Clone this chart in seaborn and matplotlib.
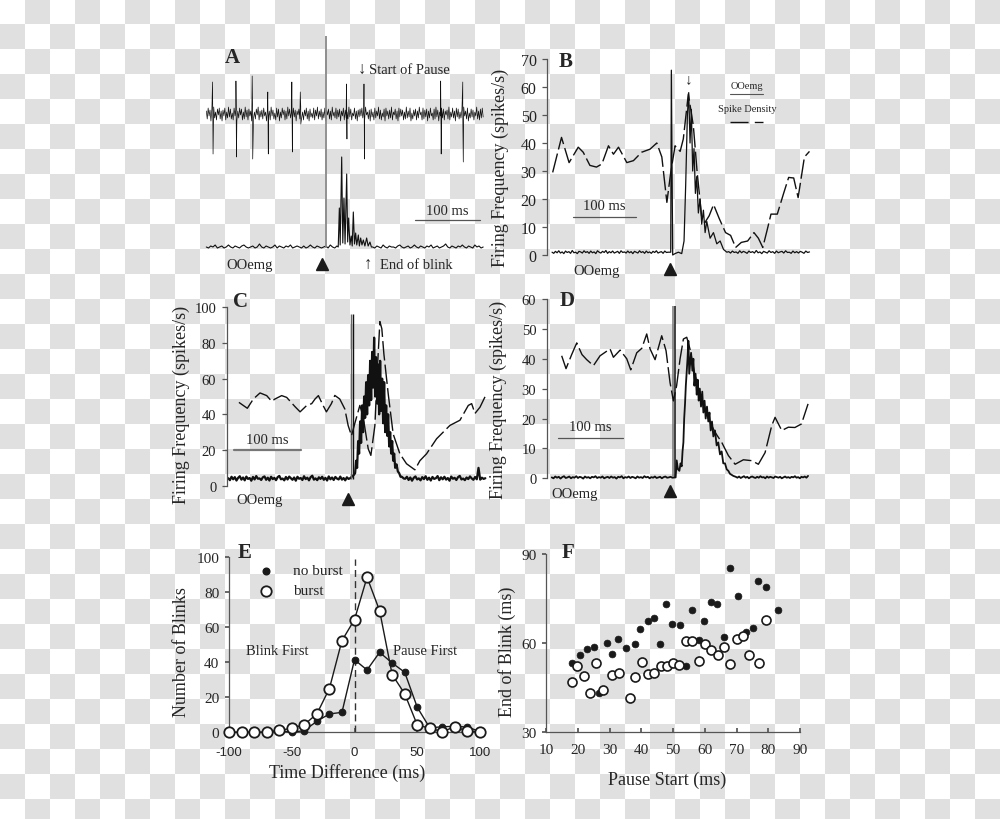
import numpy as np
import matplotlib
matplotlib.use("Agg")
import matplotlib.pyplot as plt
from matplotlib.colors import ListedColormap
import seaborn as sns

sns.set_theme(style="white")
plt.rcParams['font.family'] = ['Liberation Serif', 'DejaVu Sans']
plt.rcParams['axes.unicode_minus'] = False
plt.rcParams['axes.facecolor'] = 'none'

SPINE = '#555555'
DASH = (0, (14, 3))
LABEL_FS = 13
NOTE_FS = 10.5

# ---------------- data ----------------
# Panel A : unit spike train (arbitrary units) and OOemg
a_spike_noise = [3,-5,6,-2,4,-7,5,-3,7,-4,2,-6,5,-1,6,-5,3,-7,4,-2,6,-6,2,-4,7,-3,5,-5,1,-6,
                 6,-2,4,-7,3,-4,6,-1,5,-6,2,-5,7,-3,4,-6,5,-2,3,-7,6,-4,2,-5,5,-1,7,-6,3,-3,
                 4,-5,6,-2,2,-7,5,-4,3,-6,7,-2,4,-5,1,-6,6,-3,5,-7,2,-4,6,-1,4,-6,3,-5,7,-2,
                 5,-4,2,-6,6,-3,4,-7,3,-1,5,-5,7,-4,2,-6,4,-2,6,-5,3,-7,5,-3,1,-4,6,-6,4,-2,
                 7,-5,3,-3,5,-6,2,-4,6,-7,4,-1,5,-5,3,-6,7,-2,2,-4,6,-5,4,-3,5,-7,3,-2,6,-6,
                 4,-4,2,-5,7,-3,5,-6,1,-2,6,-5,3,-7,4,-3,5,-2,6,-4,3,-6,7,-1,2,-5,4,-7,5,-3,
                 2,-6,6,-4,3,-2,7,-5,4,-6,1,-3,5,-7,6,-2,3,-5,4,-4,7,-6,2,-1,5,-5,3,-7,6,-3,
                 5,-2,4,-6,2,-5,7,-4,3,-3,6,-7,1,-5,4,-2,5,-6,3,-4,7,-1,2,-6,6,-5,4,-3,5,-7,
                 3,-4,6,-2,1,-6,5,-5,7,-3,4,-7,2,-2,6,-4,5,-6,3,-1,4,-5,7,-6,2,-3,6,-4,3,-7,
                 6,-3,5,-5,2,-4,4,-6,7,-2,3,-5,6,-7,1,-4,5,-3,4,-6,2,-2,7,-5,3,-6,5,-4,6,-3]
a_spike_times = [-168, -132, -107, -83, -46, -33, 38, 65, 183, 217]
a_spike_up = [32, 33, 38, 22, 32, 22, 30, 30, 33, 32]
a_spike_down = [-40, -43, -45, -40, -38, -10, -25, -45, -40, -48]
a_emg_pre = [1,0,2,1,3,0,1,2,0,1,3,1,0,2,1,0,2,3,1,0,1,2,0,1,4,1,0,2,1,0,1,3,0,2,1,0,2,1,3,0,
             1,2,1,0,2,0,1,3,1,0,2,1,0,1,2,0,3,1,0,2]
a_emg_burst_t = [25, 26.7, 28, 30.3, 32, 33.8, 35.5, 38, 39.5, 41, 43, 45, 46.5, 48.2, 50, 51.8,
                 53.5, 55.9, 57.5, 59.5, 61.5, 63.6, 66, 68.7, 71, 73.8, 76]
a_emg_burst_v = [1, 40, 3, 91, 5, 50, 4, 74, 6, 30, 3, 12, 2, 36, 4, 15, 3, 13, 2, 10, 3, 8, 2, 10,
                 2, 6, 1]
a_emg_post = [1,0,2,1,0,3,1,0,2,1,1,0,2,3,1,0,1,2,0,1,3,1,0,2,1,0,2,1,3,0,1,2,0,1,2,4,1,0,2,1,
              0,2,1,3,1,0,2,1,0,3,1,2,0,1]
a_artifact_t = 6.2
a_artifact_v = 212

# Panel B
b_dens_t = [-186, -172, -160, -145.5, -137.6, -127, -116.6, -108, -97.6, -89.7, -81.7, -68.5, -58,
            -45, -31.7, -21, -13, -5, 1.1, 8, 16, 21, 29, 37, 43, 50, 55, 62, 69, 78, 88, 96, 104,
            113, 123, 133, 140, 147, 154, 160, 170, 180, 188, 196, 203, 213, 221]
b_dens_v = [29.5, 42, 33, 38.5, 36.7, 32, 31.4, 32.5, 39, 36, 38.5, 33, 33.7, 36.7, 37.8, 40, 35,
            18.8, 29.5, 39, 37, 41.4, 57.5, 46, 29.5, 14, 11.5, 14, 18, 13, 8, 7, 2.7, 4.5, 5, 8,
            6, 2.7, 9, 14.6, 14.6, 22, 27.7, 27.5, 20.5, 35, 37]
b_emg_pre = [1.0,0.6,1.3,0.8,1.5,0.7,1.1,0.5,1.4,0.9,1.2,0.6,1.6,0.8,1.0,0.5,1.3,1.1,0.7,1.5,
             0.9,1.2,0.6,1.4,0.8,1.1,0.5,1.5,1.0,0.7,1.3,0.9,1.6,0.6,1.2,0.8,1.4,0.7,1.0,1.3,
             0.6,1.5,0.9,1.1,0.7,1.4,0.8,1.2,0.5,1.3,1.0,0.7,1.5,0.9,1.2,0.6,1.4,0.8,1.1,0.6,
             1.3,0.9,1.5,0.7,1.0,1.2,0.6,1.4,0.9,1.0]
b_emg_burst_t = [-1, 1.1, 2.1, 4.2, 7.9, 13.2, 18.5, 22.2, 24.8, 27.5, 29.6, 31.7, 33.8, 35.9, 38,
                 40.2, 42.3, 44.9, 47.6, 50.2, 52.9, 55.6, 58.2, 63.5, 68.8, 74.1, 79.4, 84.7, 90]
b_emg_burst_v = [1, 1, 66, 0, 0.5, 1, 0.5, 5, 25, 50, 58, 40, 52, 30, 38, 22, 28, 15, 20, 11, 16,
                 8, 12, 6, 8, 4, 5, 2, 1]
b_emg_post = [1.2,0.7,1.4,0.9,1.1,0.6,1.5,0.8,1.3,1.0,0.6,1.4,0.9,1.2,0.7,1.6,0.8,1.1,0.5,1.3,
              1.0,0.7,1.5,0.9,1.2,0.6,1.4,0.8,1.1,1.3,0.7,1.5,0.9,1.0,0.6,1.4,0.8,1.2,0.7,1.3,
              1.0,0.6,1.4,0.9,1.1]

# Panel C
c_dens_t = [-164, -151.4, -142.4, -132.4, -122.4, -114.9, -110, -100, -92.5, -80, -72.4, -62.4,
            -55, -50, -45, -38, -33, -25.5, -20.4, -13, -5.4, -0.4, 4.6, 9.6, 17.1, 22, 29.6,
            33.6, 39.6, 44, 47.1, 50, 53.1, 59.6, 67, 77, 87, 99.5, 107, 117, 132, 152, 167,
            179.5, 184.5, 189.5, 197, 204.5]
c_dens_v = [46.7, 43.4, 48.6, 52, 50.5, 47.3, 48.6, 50.5, 49.5, 44.3, 41.4, 45, 46, 48.6, 50.5,
            45, 41.4, 46, 50.6, 48.6, 43, 33.7, 28, 35, 45, 38.6, 20.7, 17, 33.7, 70, 92, 88,
            73.8, 51.4, 29, 17.9, 12.3, 8.9, 14, 17.9, 26.3, 33.8, 36.7, 45, 46, 40.5, 44, 49.8]
c_emg_pre = [4.2,3.1,5.0,3.6,4.8,2.9,4.4,5.3,3.4,4.6,3.0,5.1,3.8,4.3,2.8,4.9,3.5,5.4,3.9,4.1,
             3.2,4.7,5.2,3.3,4.5,2.9,5.0,3.7,4.4,3.1,4.8,5.5,3.6,4.0,3.0,4.9,3.5,5.1,4.2,3.3,
             4.6,2.8,5.0,3.9,4.3,3.2,5.3,3.7,4.5,3.0,4.8,5.6,3.4,4.1,3.1,4.7,3.8,5.0,3.3,4.4,
             2.9,5.2,3.6,4.6,3.2,4.9,4.0,3.5,5.1,3.4,4.3,3.0,4.7,3.8,4.2]
c_artifact_t = [3.6, 6.6]
c_artifact_v = [96, 96]
c_emg_burst_t = [8, 10, 11.5, 13, 14.5, 16, 17.5, 19, 20.5, 22, 23.5, 25, 26.5, 28, 29.5, 31,
                 32.5, 34, 35.5, 37, 38.5, 40, 41.5, 43, 44.5, 46, 47.5, 49, 50.5, 52, 53.5, 55,
                 56.5, 58, 59.5, 61, 62.5, 64, 65.5, 67, 68.5, 70, 72, 74, 76, 78, 80, 83]
c_emg_burst_v = [6, 7, 14, 10, 25, 18, 36, 24, 45, 30, 50, 38, 58, 40, 62, 45, 70, 48, 75, 55, 83,
                 50, 72, 46, 68, 40, 70, 42, 60, 35, 58, 30, 45, 28, 40, 22, 30, 18, 25, 14, 18,
                 10, 12, 8, 7, 5, 5, 4]
c_emg_post = [3.9,5.0,3.2,4.6,2.8,4.4,5.2,3.5,4.1,3.0,4.8,3.7,5.3,3.3,4.5,2.9,4.9,3.8,4.2,5.4,
              3.1,4.7,3.6,5.0,3.4,4.3,2.8,5.1,3.9,4.4,3.2,4.8,5.5,3.5,4.0,3.1,4.6,3.7,5.2,4.1,
              3.3,4.9,3.6,10.0,3.4,4.5,3.8,4.2]

# Panel D
d_dens_t = [-164.9, -158.3, -149.7, -142, -134, -126.8, -116.6, -106.5, -91.3, -86.2, -76, -65.9,
            -59.8, -50.7, -43, -35.5, -30.4, -22.8, -12.7, -6.1, 0, 5.1, 10, 15.2, 20.3, 25.4,
            30.4, 38.1, 48.2, 58.4, 68.5, 78.7, 88.8, 99, 111.6, 124.3, 134.4, 144.6, 154.7,
            159.8, 170, 180, 190, 200, 210]
d_dens_v = [41, 36.7, 41.4, 45.3, 41.4, 39.7, 37.7, 41, 43.3, 40.5, 42.9, 40, 36.3, 42, 43.5,
            48.3, 43.3, 39.7, 47.7, 42.7, 32, 25.9, 31, 39.9, 46.6, 47.2, 43.2, 34.3, 26.5, 19.8,
            15.4, 12, 7.6, 4.7, 6.2, 5.9, 4.7, 8.6, 17.6, 20.4, 16, 17.1, 17, 18.2, 24.9]
d_emg_pre = [0.3,0.0,0.6,0.2,0.5,-0.1,0.4,0.7,0.1,0.3,0.6,0.0,0.4,0.2,0.7,0.1,0.5,0.3,-0.1,0.6,
             0.2,0.4,0.0,0.5,0.3,0.7,0.1,0.4,0.2,0.6,0.0,0.3,0.5,0.1,0.6,0.2,0.4,-0.1,0.5,0.3,
             0.7,0.0,0.4,0.2,0.6,0.1,0.5,0.3,0.0,0.6,0.2,0.4,0.1,0.7,0.3,0.5,0.0,0.4,0.2,0.6,
             0.1,0.3,0.5,0.0,0.4,0.6,0.2,0.3,0.5,0.2]
d_artifact_t = [5, 8]
d_artifact_v = [57.8, 57.8]
d_emg_burst_t = [8.5, 10.1, 12, 14.2, 16, 17.7, 19, 20.3, 21.5, 22.8, 24, 25.4, 26.6, 27.9, 29.2,
                 30.4, 32, 34, 35.5, 37, 38.8, 40.6, 42, 43.6, 45.3, 47.1, 49, 50.7, 52.5, 54.2,
                 56.2, 58.2, 60, 61.8, 63.8, 65.9, 68.4, 70.9, 73.4, 76, 78.5, 81, 83.6, 86.2,
                 88.7, 91.2, 96.3]
d_emg_burst_v = [0.3, 6, 3, 2.5, 5, 4, 9, 12, 20, 25, 31, 36, 40, 46, 35, 38, 42, 36, 40, 31, 35,
                 28, 33, 26, 30, 24, 29, 22, 26, 20, 24, 19, 22, 16, 19, 14, 16, 11, 12, 8, 9, 5,
                 5, 3, 2.5, 1.5, 0.8]
d_emg_post = [0.5,0.2,0.6,0.1,0.4,0.7,0.2,0.5,0.0,0.4,0.6,0.3,0.1,0.5,0.2,0.7,0.3,0.4,0.0,0.6,
              0.2,0.5,0.3,0.1,0.6,0.4,0.2,0.5,0.0,0.3,0.6,0.2,0.4,0.1,0.5,0.3,0.7,0.2,0.4,0.0,
              0.5,0.3,0.6,0.2,0.8]

# Panel E
e_time_diff = [-100, -90, -80, -70, -60, -50, -40, -30, -20, -10, 0, 10, 20, 30, 40, 50, 60, 70,
               80, 90, 100]
e_no_burst = [0, 0, 0, 0, 1, 0, 1, 6.3, 10.5, 11.4, 41.5, 35.6, 45.7, 39.6, 34.3, 14.3, 2.5, 3.2,
              3.4, 3, 0.4]
e_burst = [0, 0, 0, 0, 1.1, 2.3, 4.4, 10.5, 25, 52.4, 64.4, 88.6, 69.5, 33, 22, 4.2, 2.3, 0.4,
           3.2, 0.6, 0.4]
e_xticklabels = ['-100', '-50', '0', '50', '100']

# Panel F
f_nb_x = [18.2, 20.8, 22.8, 25.05, 26.8, 29.3, 30.8, 32.8, 35.05, 38, 39.7, 42.1, 44, 46, 47.7,
          49.8, 52.1, 54.2, 56.1, 58.2, 59.7, 62, 64, 66, 68.1, 70.5, 72.9, 75.05, 76.8, 79.2,
          83.2]
f_nb_y = [53.3, 56.1, 58, 58.6, 43.2, 60.1, 56.4, 61.4, 58.4, 59.7, 64.8, 67.6, 68.4, 59.7, 73.3,
          66.6, 66.2, 52.4, 71.2, 61.1, 67.3, 74, 73.2, 62.2, 85.2, 76, 63.6, 65.1, 80.8, 78.8,
          71.3]
f_b_x = [18.1, 19.7, 21.9, 24, 25.9, 28, 30.8, 33.05, 36.3, 38, 40.3, 42.2, 44, 46.3, 48.2, 50.1,
         51.8, 54.1, 56.1, 58.1, 60.2, 62.1, 64.2, 66, 68.1, 70.1, 72.1, 74, 77, 79.4]
f_b_y = [46.8, 52.4, 49, 43.3, 53.2, 44.2, 49.2, 49.8, 41.7, 48.7, 53.5, 49.5, 50, 52.3, 52.3,
         53.3, 52.5, 60.8, 60.8, 54.1, 59.7, 57.7, 56.1, 58.6, 53, 61.4, 62.3, 56, 53.4, 67.9]

# ---------------- figure ----------------
fig = plt.figure(figsize=(10, 8.2), dpi=100)


def axes_px(l, t, r, b):
    return fig.add_axes([l / 1000, 1 - b / 820, (r - l) / 1000, (b - t) / 820])


# checkerboard background
bg = fig.add_axes([0, 0, 1, 1], zorder=-10)
board = np.add.outer(np.arange(33), np.arange(40)) % 2
bg.imshow(board, cmap=ListedColormap(['white', '#e0e0e0']), extent=(0, 1000, 825, 0),
          interpolation='nearest', aspect='auto')
bg.set_xlim(0, 1000)
bg.set_ylim(820, 0)
bg.axis('off')


def style_left(ax, ticks, fs):
    sns.despine(ax=ax, bottom=True)
    ax.spines['left'].set_color(SPINE)
    ax.spines['left'].set_linewidth(0.9)
    ax.set_yticks(ticks)
    ax.set_xticks([])
    ax.tick_params(axis='y', which='both', left=True, direction='out', length=3.5, width=0.9,
                   color=SPINE, labelsize=fs, pad=4, labelcolor='#222222')


def set_ylabel(ax, text, x, y):
    ax.set_ylabel(text, fontsize=LABEL_FS)
    ax.yaxis.set_label_coords(x, y)
    ax.yaxis.label.set_verticalalignment('center')


def set_xlabel(ax, text, x, y):
    ax.set_xlabel(text, fontsize=LABEL_FS)
    ax.xaxis.set_label_coords(x, y)
    ax.xaxis.label.set_verticalalignment('center')


def emg_trace(pre, pre_span, burst_t, burst_v, post, post_span):
    t = np.concatenate([np.linspace(pre_span[0], pre_span[1], len(pre)), burst_t,
                        np.linspace(post_span[0], post_span[1], len(post))])
    v = np.concatenate([pre, burst_v, post])
    return t, v


# ---- Panel A ----
axA = axes_px(200, 35, 490, 285)
axA.set_xlim(-187.7, 258.5)
axA.set_ylim(0, 250)
axA.axis('off')
t_noise = np.linspace(-178, 248, len(a_spike_noise))
st = list(t_noise)
sv = list(a_spike_noise)
for tt, up, dn in zip(a_spike_times, a_spike_up, a_spike_down):
    st += [tt - 0.4, tt + 0.4]
    sv += [up, dn]
order = np.argsort(st)
axA.plot(np.array(st)[order], np.array(sv)[order] + 170, color='#111111', lw=0.5)
et, ev = emg_trace(a_emg_pre, (-178, 23), a_emg_burst_t, a_emg_burst_v, a_emg_post, (78, 248))
axA.plot(et, ev + 36, color='#111111', lw=0.8)
axA.vlines(a_artifact_t, 36, 36 + a_artifact_v, color='#888888', lw=1.3)
axA.text(-138, 227, 'A', fontsize=15, fontweight='bold', ha='center', va='center')
axA.text(61.5, 215, '↓', fontsize=12, ha='center', va='center')
axA.text(72, 215, 'Start of Pause', fontsize=NOTE_FS, ha='left', va='center')
axA.plot([143, 243], [64, 64], color='#555555', lw=0.9)
axA.text(193, 67, '100 ms', fontsize=NOTE_FS, ha='center', va='bottom')
axA.text(-110.8, 19, 'OOemg', fontsize=NOTE_FS, ha='center', va='center')
axA.plot([0], [20], marker='^', color='k', ms=9, clip_on=False)
axA.text(70.8, 20, '↑', fontsize=12, ha='center', va='center')
axA.text(89, 19, 'End of blink', fontsize=NOTE_FS, ha='left', va='center')

# ---- Panel B ----
axB = axes_px(547, 60, 812, 256)
axB.set_xlim(-195, 225)
axB.set_ylim(0, 70)
style_left(axB, range(0, 71, 10), 11.5)
et, ev = emg_trace(b_emg_pre, (-187, -3), b_emg_burst_t, b_emg_burst_v, b_emg_post, (93, 221))
axB.plot(et, ev, color='#111111', lw=0.9, clip_on=False)
axB.plot(b_dens_t, b_dens_v, color='#111111', lw=1.0, linestyle=DASH, clip_on=False)
set_ylabel(axB, 'Firing Frequency (spikes/s)', -0.177, 0.45)
axB.text(-165, 69.3, 'B', fontsize=15, fontweight='bold', ha='center', va='center')
axB.text(30, 62.9, '↓', fontsize=11, ha='center', va='center')
axB.text(122, 60.6, 'OOemg', fontsize=7.5, ha='center', va='center')
axB.plot([95, 148], [57.5, 57.5], color='#555555', lw=0.8)
axB.text(122, 52.2, 'Spike Density', fontsize=7.5, ha='center', va='center')
axB.plot([95, 148], [47.5, 47.5], color='#111111', lw=1.0, linestyle=(0, (13, 4.5)))
axB.plot([-154, -54], [13.6, 13.6], color='#555555', lw=0.9)
axB.text(-104, 15.5, '100 ms', fontsize=NOTE_FS, ha='center', va='bottom')
axB.text(-116, -5.5, 'OOemg', fontsize=NOTE_FS, ha='center', va='center')
axB.plot([0], [-5], marker='^', color='k', ms=9, clip_on=False)

# ---- Panel C ----
axC = axes_px(226.7, 308.3, 490, 486.7)
axC.set_xlim(-182.3, 212)
axC.set_ylim(0, 100)
style_left(axC, range(0, 101, 20), 10.5)
et, ev = emg_trace(c_emg_pre, (-180, 2.6), c_emg_burst_t, c_emg_burst_v, c_emg_post, (85, 205))
axC.plot(et, ev, color='#111111', lw=1.6, clip_on=False)
axC.vlines(c_artifact_t, 4, c_artifact_v, color=['#666666', '#111111'], lw=1.0)
axC.plot(c_dens_t, c_dens_v, color='#111111', lw=1.0, linestyle=DASH, clip_on=False)
set_ylabel(axC, 'Firing Frequency (spikes/s)', -0.171, 0.46)
axC.text(-162, 103.7, 'C', fontsize=15, fontweight='bold', ha='center', va='center')
axC.plot([-171.4, -71.4], [20, 20], color='#777777', lw=1.6)
axC.text(-121, 22, '100 ms', fontsize=NOTE_FS, ha='center', va='bottom')
axC.text(-132.5, -7.5, 'OOemg', fontsize=NOTE_FS, ha='center', va='center')
axC.plot([0], [-7.5], marker='^', color='k', ms=9, clip_on=False)

# ---- Panel D ----
axD = axes_px(546.7, 300, 812, 479.3)
axD.set_xlim(-187.7, 216)
axD.set_ylim(0, 60)
style_left(axD, range(0, 61, 10), 10.5)
et, ev = emg_trace(d_emg_pre, (-180, 3.5), d_emg_burst_t, d_emg_burst_v, d_emg_post, (100, 210))
axD.plot(et, ev, color='#111111', lw=1.3, clip_on=False)
axD.vlines(d_artifact_t, 0.3, d_artifact_v, color=['#777777', '#111111'], lw=1.1)
axD.plot(d_dens_t, d_dens_v, color='#111111', lw=1.0, linestyle=DASH, clip_on=False)
set_ylabel(axD, 'Firing Frequency (spikes/s)', -0.182, 0.44)
axD.text(-157, 59.5, 'D', fontsize=15, fontweight='bold', ha='center', va='center')
axD.plot([-171, -71], [13.5, 13.5], color='#555555', lw=0.9)
axD.text(-121, 15, '100 ms', fontsize=NOTE_FS, ha='center', va='bottom')
axD.text(-144.6, -5, 'OOemg', fontsize=NOTE_FS, ha='center', va='center')
axD.plot([0], [-4.4], marker='^', color='k', ms=9, clip_on=False)

# ---- Panel E ----
axE = axes_px(229, 558.3, 480, 733.3)
axE.set_xlim(-100, 100)
axE.set_ylim(0, 100)
sns.despine(ax=axE)
for s in ('left', 'bottom'):
    axE.spines[s].set_color(SPINE)
    axE.spines[s].set_linewidth(0.9)
axE.axvline(0, ymax=0.99, color='#333333', lw=1.0, linestyle=(0, (5, 3)))
sns.lineplot(x=e_time_diff, y=e_no_burst, ax=axE, color='k', lw=1.0, marker='o', ms=4.8,
             markeredgecolor='k', markerfacecolor='k', clip_on=False, zorder=3)
sns.lineplot(x=e_time_diff, y=e_burst, ax=axE, color='k', lw=1.0, marker='o', ms=7.5,
             markeredgecolor='k', markerfacecolor='white', markeredgewidth=1.3,
             clip_on=False, zorder=4)
axE.set_yticks(range(0, 101, 20))
axE.set_xticks([-100, -50, 0, 50, 100])
axE.set_xticklabels(e_xticklabels, fontfamily='Liberation Sans', fontsize=9.5)
axE.tick_params(axis='x', bottom=True, direction='in', length=3, color=SPINE, pad=10)
axE.tick_params(axis='y', left=True, direction='out', length=3, color=SPINE, labelsize=11,
                pad=4)
set_xlabel(axE, 'Time Difference (ms)', 0.469, -0.227)
set_ylabel(axE, 'Number of Blinks', -0.188, 0.465)
axE.text(-87.5, 103, 'E', fontsize=15, fontweight='bold', ha='center', va='center')
axE.plot([-70.2], [92.3], marker='o', color='k', ms=4.8, clip_on=False)
axE.text(-49.2, 92.3, 'no burst', fontsize=11, ha='left', va='center')
axE.plot([-70.2], [80.9], marker='o', mfc='white', mec='k', mew=1.3, ms=7.5, clip_on=False)
axE.text(-49.2, 80.9, 'burst', fontsize=11, ha='left', va='center')
axE.text(-61.2, 46.6, 'Blink First', fontsize=NOTE_FS, ha='center', va='center')
axE.text(56, 47, 'Pause First', fontsize=NOTE_FS, ha='center', va='center')

# ---- Panel F ----
axF = axes_px(546, 555, 800, 733.3)
axF.set_xlim(10, 90)
axF.set_ylim(30, 90)
sns.despine(ax=axF)
for s in ('left', 'bottom'):
    axF.spines[s].set_color(SPINE)
    axF.spines[s].set_linewidth(0.9)
sns.scatterplot(x=f_nb_x, y=f_nb_y, ax=axF, color='k', edgecolor='k', s=24, linewidth=0.5)
sns.scatterplot(x=f_b_x, y=f_b_y, ax=axF, color='white', edgecolor='k', s=42, linewidth=1.2)
axF.set_xticks(range(10, 91, 10))
axF.set_yticks([30, 60, 90])
axF.tick_params(axis='x', bottom=True, direction='in', length=3, color=SPINE, labelsize=11,
                pad=8)
axF.tick_params(axis='y', left=True, direction='out', length=3, color=SPINE, labelsize=11,
                pad=4)
set_xlabel(axF, 'Pause Start (ms)', 0.475, -0.262)
set_ylabel(axF, 'End of Blink (ms)', -0.155, 0.456)
axF.text(16.9, 90.7, 'F', fontsize=15, fontweight='bold', ha='center', va='center')

fig.savefig('out.png', dpi=100)
